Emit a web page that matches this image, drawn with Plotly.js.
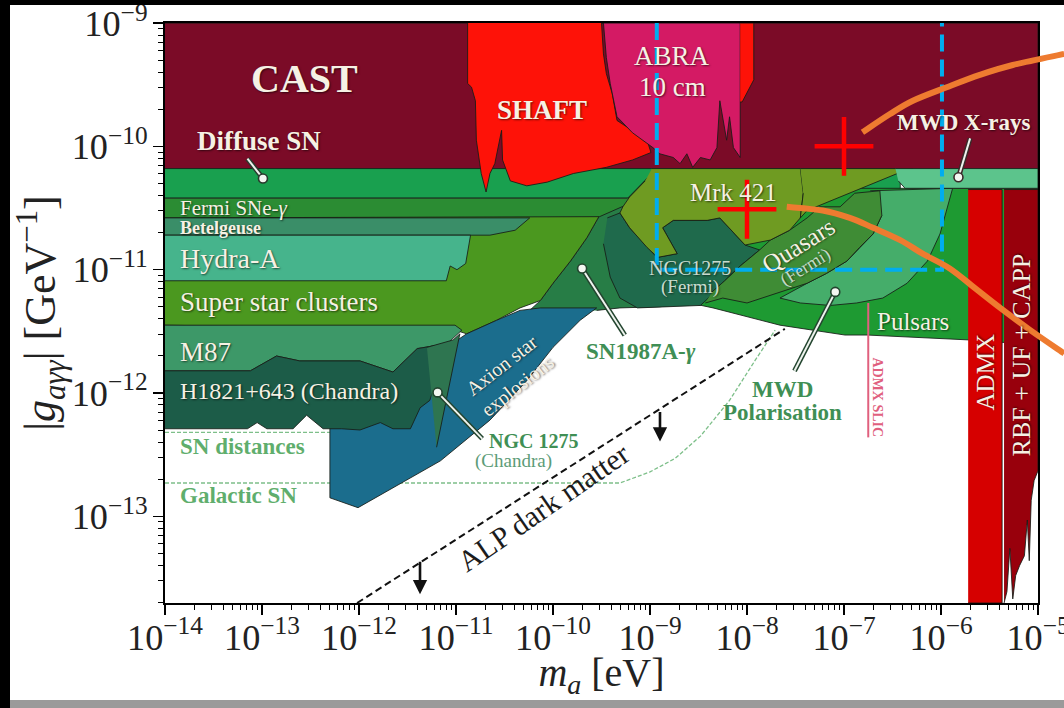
<!DOCTYPE html>
<html>
<head>
<meta charset="utf-8">
<script src="https://cdn.plot.ly/plotly-3.0.1.min.js"></script>
<style>
  html, body { margin: 0; padding: 0; background: #000; width: 1064px; height: 708px; overflow: hidden; }
  #frame { position: absolute; left: 10px; top: 5px; width: 1054px; height: 695px; background: #fff; }
  #base { position: absolute; left: 10px; top: 700px; width: 1054px; height: 8px; background: #9a9a9a; }
  #chart { width: 1054px; height: 695px; }
</style>
</head>
<body>
<div id="frame"><div id="chart"></div></div>
<div id="base"></div>
<script>
// All coordinates are log10 values: mass m_a in eV, coupling g in GeV^-1.
const xRange = [-14, -5];
const yRange = [-13.703, -8.9995];

// ---- exclusion regions (polygon vertices) ----
const castM = [-14, -5, -5, -14];
const castG = [-9, -9, -10.18, -10.18];

const diffuseM = [-14, -6.42, -6.42, -14];
const diffuseG = [-10.18, -10.18, -10.42, -10.42];

const sn1987M = [-10.24, -10.13, -10.0, -9.82, -9.65, -9.52, -9.21, -8.94, -8.48, -7.87, -7.87, -8.48, -8.90, -9.31, -9.55];
const sn1987G = [-11.33, -11.25, -11.11, -10.93, -10.74, -10.56, -10.42, -10.21, -10.36, -10.44, -11.31, -11.27, -11.30, -11.31, -11.33];

const sscM = [-14, -9.52, -9.65, -9.82, -10.0, -10.13, -10.34, -10.58, -10.89, -11.01, -14];
const sscG = [-10.56, -10.56, -10.74, -10.93, -11.11, -11.25, -11.31, -11.41, -11.52, -11.49, -11.45];

const fermiM = [-14, -9.23, -8.97, -8.95, -9.26, -9.52, -14];
const fermiG = [-10.42, -10.42, -10.21, -10.28, -10.48, -10.57, -10.58];

const betelM = [-14, -10.24, -10.39, -10.65, -14];
const betelG = [-10.58, -10.58, -10.68, -10.72, -10.72];

const hydraM = [-14, -10.85, -10.90, -10.99, -11.06, -11.10, -14];
const hydraG = [-10.72, -10.72, -10.95, -11.0, -10.97, -11.09, -11.09];

const m87M = [-14, -11.01, -10.94, -11.09, -11.40, -11.65, -11.99, -12.61, -12.85, -13.12, -14];
const m87G = [-11.45, -11.45, -11.49, -11.60, -11.64, -11.83, -11.74, -11.74, -11.70, -11.82, -11.82];

const starM = [-12.30, -12.30, -12.01, -11.16, -10.65, -10.27, -10.00, -9.72, -9.55, -10.13, -10.34, -10.58, -10.89, -11.06, -11.16];
const starG = [-12.20, -12.85, -12.93, -12.55, -12.22, -11.90, -11.63, -11.41, -11.31, -11.31, -11.33, -11.41, -11.52, -11.61, -11.98];

const h1821M = [-14, -13.12, -12.85, -12.61, -11.99, -11.65, -11.40, -11.09, -11.27, -11.37, -11.47, -11.65, -11.78, -11.99, -12.18, -12.37, -12.54, -12.68, -12.95, -13.05, -13.15, -14];
const h1821G = [-11.82, -11.82, -11.70, -11.74, -11.74, -11.83, -11.64, -11.60, -12.06, -12.12, -12.29, -12.29, -12.24, -12.30, -12.29, -12.29, -12.18, -12.29, -12.29, -12.24, -12.29, -12.29];

const ngcChM = [-11.30, -11.03, -10.96, -11.20];
const ngcChG = [-11.63, -11.57, -11.52, -12.44];

const pulsarM = [-8.59, -5.0, -5.0, -5.70, -6.76, -6.99, -7.66, -8.35, -8.59];
const pulsarG = [-10.34, -10.34, -11.61, -11.57, -11.53, -11.53, -11.45, -11.31, -11.27];

const ngcFeM = [-9.44, -9.31, -9.21, -9.03, -8.93, -8.72, -8.87, -8.76, -8.41, -8.28, -8.14, -8.02, -7.87, -8.07, -8.23, -8.33, -8.48, -8.90, -9.13, -9.31, -9.41, -9.48];
const ngcFeG = [-10.58, -10.54, -10.66, -10.82, -10.90, -10.87, -10.66, -10.60, -10.60, -10.58, -10.70, -10.80, -10.84, -10.97, -11.09, -11.18, -11.29, -11.30, -11.31, -11.23, -11.06, -10.79];

const mwdPolM = [-6.73, -5.88, -6.01, -6.14, -6.35, -6.60, -6.87, -7.14, -7.45, -7.66, -7.38, -7.18, -6.97, -6.84, -6.70, -6.61];
const mwdPolG = [-10.36, -10.34, -10.71, -10.93, -11.11, -11.23, -11.27, -11.29, -11.27, -11.23, -11.11, -11.03, -10.93, -10.82, -10.71, -10.56];

const quasarM = [-8.43, -8.25, -8.0, -7.84, -7.66, -7.38, -7.18, -6.97, -6.84, -6.70, -6.61, -6.63, -6.89, -7.04, -7.25, -7.38, -7.56, -7.76, -7.87, -8.07, -8.23, -8.36];
const quasarG = [-11.27, -11.23, -11.27, -11.23, -11.18, -11.11, -11.03, -10.93, -10.82, -10.71, -10.56, -10.36, -10.38, -10.49, -10.49, -10.58, -10.68, -10.76, -10.84, -10.97, -11.09, -11.18];

const mrkM = [-8.98, -7.45, -7.42, -7.45, -7.56, -7.76, -8.02, -8.14, -8.28, -8.41, -8.76, -8.87, -8.72, -8.92, -9.03, -9.21, -9.31, -9.28, -9.21, -9.05];
const mrkG = [-10.18, -10.18, -10.38, -10.58, -10.68, -10.76, -10.80, -10.70, -10.58, -10.60, -10.60, -10.66, -10.87, -10.90, -10.82, -10.66, -10.54, -10.49, -10.41, -10.28];

const oliveM = [-7.45, -6.29, -6.45, -6.70, -6.94, -7.18, -7.38, -7.45, -7.42];
const oliveG = [-10.18, -10.18, -10.22, -10.30, -10.38, -10.46, -10.52, -10.58, -10.38];

const mwdXM = [-6.47, -5.0, -5.0, -6.37, -6.44];
const mwdXG = [-10.18, -10.18, -10.34, -10.34, -10.28];

const shaftM = [-10.88, -10.88, -10.84, -10.80, -10.79, -10.74, -10.69, -10.65, -10.60, -10.53, -10.52, -10.44, -10.27, -10.06, -9.79, -9.45, -9.18, -8.99, -9.03, -9.21, -9.34, -9.39, -9.45, -9.48, -9.50];
const shaftG = [-9.00, -9.49, -9.52, -9.63, -9.95, -10.22, -10.37, -10.22, -10.14, -9.87, -10.11, -10.28, -10.32, -10.29, -10.22, -10.17, -10.11, -10.05, -9.95, -9.86, -9.79, -9.57, -9.41, -9.25, -9.00];

const abraM = [-9.50, -8.07, -8.07, -8.14, -8.18, -8.21, -8.28, -8.31, -8.38, -8.48, -8.56, -8.62, -8.69, -8.76, -8.90, -8.97, -9.18, -9.34, -9.41, -9.45, -9.48];
const abraG = [-9.00, -9.00, -10.09, -10.01, -9.76, -9.95, -9.63, -10.01, -10.11, -10.09, -10.17, -10.06, -10.14, -10.09, -10.06, -10.01, -9.89, -9.76, -9.49, -9.28, -9.00];

const sliverM = [-8.07, -7.93, -7.93, -8.05, -8.07];
const sliverG = [-9.0, -9.0, -9.46, -9.64, -9.64];

const admxM = [-5.72, -5.37, -5.37, -5.72];
const admxG = [-10.35, -10.35, -13.703, -13.703];

const rbfM = [-5.35, -5.0, -5.0, -5.04, -5.07, -5.09, -5.11, -5.14, -5.19, -5.23, -5.26, -5.29, -5.32, -5.35];
const rbfG = [-10.35, -10.35, -12.63, -12.71, -12.87, -13.36, -13.03, -13.32, -13.40, -13.48, -13.67, -13.26, -13.61, -13.703];

// ---- reference lines ----
const snDistM = [-14, -12.30];
const snDistG = [-12.32, -12.32];
const galSnM = [-14, -9.31, -9.0, -8.74, -8.48, -8.18, -7.92, -7.71];
const galSnG = [-12.73, -12.73, -12.64, -12.53, -12.35, -12.06, -11.74, -11.49];
const alpM = [-12.02, -7.61];
const alpG = [-13.703, -11.48];
const slicM = [-6.75, -6.75];
const slicG = [-11.27, -12.36];

// label pointers: [label end, circle end]
const pointers = [
  {m: [-13.15, -12.99], g: [-10.10, -10.26], c: '#2a3a2e'},
  {m: [-5.70, -5.82], g: [-9.935, -10.25], c: '#3a2a2a'},
  {m: [-9.26, -9.70], g: [-11.53, -10.99], c: '#23452f'},
  {m: [-10.73, -11.19], g: [-12.37, -11.995], c: '#23452f'},
  {m: [-7.51, -7.09], g: [-11.82, -11.18], c: '#23452f'}
];

// ALP dark matter arrows: tip position and tail length in px
const arrowM = [-11.371, -8.897];
const arrowG = [-13.633, -12.393];
const arrowLen = [34, 31];

// highlighted window and marked points
const boxM = [-8.93, -8.93, -5.99, -5.99];
const boxG = [-9, -11.0, -11.0, -9];
const crossM = [-7.0, -8.0];
const crossG = [-10.0, -10.51];

// callout curves
const curve1M = [-6.81, -6.53, -6.29, -5.94, -5.60, -5.26, -4.73];
const curve1G = [-9.886, -9.74, -9.63, -9.52, -9.42, -9.34, -9.25];
const curve2M = [-7.59, -7.22, -6.94, -6.70, -6.42, -6.19, -5.91, -5.65, -5.39, -5.08, -4.73];
const curve2G = [-10.49, -10.52, -10.58, -10.66, -10.76, -10.87, -10.99, -11.15, -11.31, -11.49, -11.68];

const P = a => a.map(v => Math.pow(10, v));
const EDGE = 'rgba(22,28,22,0.85)';

function region(m, g, color) {
  return {
    type: 'scatter', mode: 'lines', x: P(m), y: P(g), fill: 'toself', fillcolor: color,
    line: {color: EDGE, width: 1}, hoverinfo: 'skip', showlegend: false
  };
}
function line(m, g, color, width, dash) {
  return {
    type: 'scatter', mode: 'lines', x: P(m), y: P(g),
    line: {color: color, width: width, dash: dash || 'solid'}, hoverinfo: 'skip', showlegend: false
  };
}

const traces = [
  region(castM, castG, '#7b0b27'),
  line(snDistM, snDistG, '#7dbf89', 1.3, '4px,2px'),
  line(galSnM, galSnG, '#7dbf89', 1.3, '4px,2px'),
  region(diffuseM, diffuseG, '#19a04f'),
  region(sn1987M, sn1987G, '#277d46'),
  region(sscM, sscG, '#4b981f'),
  region(fermiM, fermiG, '#2b8c33'),
  region(betelM, betelG, '#3a8e68'),
  region(hydraM, hydraG, '#46b48c'),
  region(m87M, m87G, '#3d9868'),
  region(starM, starG, '#1b6d8d'),
  region(h1821M, h1821G, '#1c5c48'),
  region(ngcChM, ngcChG, '#2e7550'),
  region(pulsarM, pulsarG, '#1e9a32'),
  region(ngcFeM, ngcFeG, '#1f6a4c'),
  region(mwdPolM, mwdPolG, '#45ad6a'),
  region(quasarM, quasarG, '#3f8c35'),
  region(mrkM, mrkG, '#6f9b22'),
  region(oliveM, oliveG, '#6f9b22'),
  region(mwdXM, mwdXG, '#5cc48c'),
  region(shaftM, shaftG, '#fe1208'),
  region(abraM, abraG, '#d41a64'),
  region(sliverM, sliverG, '#fe1208'),
  region(admxM, admxG, '#d60000'),
  region(rbfM, rbfG, '#98000c'),
  line(slicM, slicG, '#e0607e', 2),
  line(alpM, alpG, '#111', 2, '7px,4px')
];

pointers.forEach(p => {
  traces.push(line(p.m, p.g, p.c, 5));
  traces.push(line(p.m, p.g, '#eef3ee', 2));
  traces.push({
    type: 'scatter', mode: 'markers', x: P([p.m[1]]), y: P([p.g[1]]),
    marker: {size: 9, color: '#f4f7f2', line: {color: p.c, width: 1.6}},
    hoverinfo: 'skip', showlegend: false
  });
});

traces.push(line(boxM, boxG, '#00adef', 4, '17px,8px'));
traces.push({
  type: 'scatter', mode: 'markers', x: P(crossM), y: P(crossG),
  marker: {symbol: 'cross-thin', size: 42, line: {color: '#ff0000', width: 4.5}},
  hoverinfo: 'skip', showlegend: false
});

// ---- text labels ----
const W = '#f6f1e4';
const G1 = '#3f8f55';
const SH = '1px 1px 2px rgba(0,0,0,0.6)';
const labels = [
  {t: '<b>CAST</b>', m: -12.557, g: -9.448, s: 40, c: W},
  {t: '<b>SHAFT</b>', m: -10.113, g: -9.708, s: 27, c: W},
  {t: 'ABRA', m: -8.773, g: -9.27, s: 27, c: W},
  {t: '10 cm', m: -8.773, g: -9.521, s: 27, c: W},
  {t: '<b>MWD X-rays</b>', m: -5.763, g: -9.805, s: 23, c: W},
  {t: '<b>Diffuse SN</b>', m: -13.031, g: -9.959, s: 27, c: W},
  {t: 'Fermi SNe-<i>γ</i>', m: -13.866, g: -10.503, s: 21, c: W, l: true},
  {t: '<b>Betelgeuse</b>', m: -13.866, g: -10.665, s: 18, c: W, l: true},
  {t: 'Hydra-A', m: -13.866, g: -10.908, s: 28, c: W, l: true},
  {t: 'Super star clusters', m: -13.866, g: -11.265, s: 27, c: W, l: true},
  {t: 'M87', m: -13.866, g: -11.671, s: 27, c: W, l: true},
  {t: 'H1821+643 (Chandra)', m: -13.866, g: -11.987, s: 24, c: W, l: true},
  {t: 'Axion star<br>explosions', m: -10.44, g: -11.86, s: 20, c: W, a: -38},
  {t: '<b>SN1987A-<i>γ</i></b>', m: -9.093, g: -11.663, s: 23, c: G1, ns: true},
  {t: '<b>NGC 1275</b>', m: -10.206, g: -12.393, s: 20, c: G1, ns: true},
  {t: '(Chandra)', m: -10.412, g: -12.555, s: 19, c: '#5c9c78', ns: true},
  {t: 'NGC1275', m: -8.588, g: -10.989, s: 20, c: 'rgba(226,238,228,0.9)'},
  {t: '(Fermi)', m: -8.588, g: -11.144, s: 19, c: 'rgba(226,238,228,0.9)'},
  {t: 'Mrk 421', m: -8.144, g: -10.373, s: 25, c: W},
  {t: 'Quasars', m: -7.474, g: -10.803, s: 25, c: W, a: -32},
  {t: '(Fermi)', m: -7.402, g: -10.981, s: 18, c: 'rgba(226,238,228,0.85)', a: -32},
  {t: 'Pulsars', m: -6.289, g: -11.419, s: 25, c: W},
  {t: '<b>MWD</b>', m: -7.629, g: -11.971, s: 23, c: G1, ns: true},
  {t: '<b>Polarisation</b>', m: -7.629, g: -12.157, s: 23, c: G1, ns: true},
  {t: 'ADMX', m: -5.546, g: -11.833, s: 25, c: W, a: -90},
  {t: 'RBF + UF + CAPP', m: -5.175, g: -11.695, s: 26, c: W, a: -90},
  {t: '<b>ADMX SLIC</b>', m: -6.649, g: -12.036, s: 14, c: '#e0607e', a: 90, ns: true},
  {t: '<b>SN distances</b>', m: -13.866, g: -12.433, s: 23, c: '#5fae6d', l: true, ns: true},
  {t: '<b>Galactic SN</b>', m: -13.866, g: -12.83, s: 23, c: '#5fae6d', l: true, ns: true},
  {t: 'ALP dark matter', m: -10.103, g: -12.928, s: 30, c: '#1c1c1c', a: -34.7, ns: true}
];

const annotations = labels.map(d => ({
  x: d.m, y: d.g, xref: 'x', yref: 'y', text: d.t, showarrow: false,
  xanchor: d.l ? 'left' : 'center', yanchor: 'middle', textangle: d.a || 0,
  font: {family: 'Liberation Serif, serif', size: d.s, color: d.c, shadow: d.ns ? 'none' : SH}
}));

arrowM.forEach((m, i) => {
  annotations.push({
    x: m, y: arrowG[i], xref: 'x', yref: 'y', text: '', showarrow: true,
    ax: 0, ay: -arrowLen[i], arrowhead: 2, arrowsize: 1.1, arrowwidth: 2.6, arrowcolor: '#111'
  });
});

// callout curves are laid out in paper space so they can run past the axes
const toPaperX = v => (v - xRange[0]) / (xRange[1] - xRange[0]);
const toPaperY = v => (v - yRange[0]) / (yRange[1] - yRange[0]);
function smoothPath(ms, gs) {
  const px = ms.map(toPaperX), py = gs.map(toPaperY);
  const f = v => v.toFixed(5);
  let d = 'M' + f(px[0]) + ',' + f(py[0]);
  for (let i = 0; i < px.length - 1; i++) {
    const i0 = Math.max(i - 1, 0), i3 = Math.min(i + 2, px.length - 1);
    const c1x = px[i] + (px[i + 1] - px[i0]) / 6, c1y = py[i] + (py[i + 1] - py[i0]) / 6;
    const c2x = px[i + 1] - (px[i3] - px[i]) / 6, c2y = py[i + 1] - (py[i3] - py[i]) / 6;
    d += ' C' + f(c1x) + ',' + f(c1y) + ' ' + f(c2x) + ',' + f(c2y) + ' ' + f(px[i + 1]) + ',' + f(py[i + 1]);
  }
  return d;
}
const shapes = [curve1M, curve2M].map((cm, i) => ({
  type: 'path', xref: 'paper', yref: 'paper', layer: 'above',
  path: smoothPath(cm, i === 0 ? curve1G : curve2G),
  line: {color: '#ee7b30', width: 6}
}));

const tickFont = {family: 'Liberation Serif, serif', size: 29, color: '#222'};
const axisCommon = {
  type: 'log', dtick: 1, exponentformat: 'power', showexponent: 'all',
  ticks: 'outside', ticklen: 10, tickwidth: 1.5, tickcolor: '#000',
  ticklabeloverflow: 'allow',
  showline: true, linecolor: '#000', linewidth: 1.6, mirror: true,
  showgrid: false, zeroline: false, tickfont: tickFont,
  minor: {ticks: 'outside', ticklen: 5, tickwidth: 1, tickcolor: '#000', dtick: 'D1', showgrid: false}
};

const layout = {
  width: 1054, height: 695,
  margin: {l: 155, r: 26, t: 18, b: 97},
  paper_bgcolor: '#fff', plot_bgcolor: '#fff',
  showlegend: false,
  xaxis: Object.assign({}, axisCommon, {
    range: xRange, ticklabelstandoff: -7,
    title: {text: '<i>m</i><sub><i>a</i></sub> [eV]', standoff: 22,
            font: {family: 'Liberation Serif, serif', size: 40, color: '#222'}}
  }),
  yaxis: Object.assign({}, axisCommon, {
    range: yRange,
    title: {text: '|<i>g</i><sub><i>aγγ</i></sub>| [GeV<sup>−1</sup>]', standoff: 2,
            font: {family: 'Liberation Serif, serif', size: 44, color: '#222'}}
  }),
  annotations: annotations,
  shapes: shapes
};

Plotly.newPlot('chart', traces, layout, {displayModeBar: false, staticPlot: true});
</script>
</body>
</html>
